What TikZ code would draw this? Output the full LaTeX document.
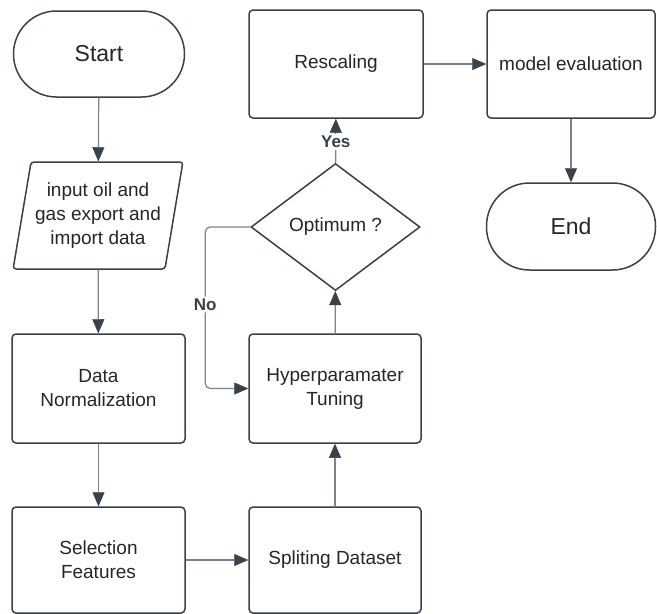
\documentclass[tikz,border=0pt]{standalone}
\usepackage{fontspec}
\setmainfont{Liberation Sans}
\usetikzlibrary{shapes.geometric, arrows.meta}
\definecolor{edgecol}{HTML}{3A4149}
\definecolor{linecol}{HTML}{7D838A}
\tikzset{
  boxbase/.style={draw=edgecol, line width=1.5pt, align=center, font=\fontsize{19}{24}\selectfont, text=black!85, inner sep=2pt},
  procbox/.style={boxbase, rectangle, rounded corners=4pt, minimum width=#1, minimum height=108pt},
  termbox/.style={boxbase, rectangle, rounded corners=43pt, minimum width=171pt, minimum height=86pt, font=\fontsize{23}{28}\selectfont},
  iobox/.style={boxbase, trapezium, trapezium left angle=76, trapezium right angle=104, trapezium stretches=true, minimum width=170pt, minimum height=107pt, rounded corners=3pt},
  decbox/.style={boxbase, diamond, aspect=1.33, inner sep=0pt, minimum width=169pt, minimum height=127pt},
  conn/.style={draw=linecol, line width=1.2pt, -{Triangle[length=14pt,width=12pt,color=edgecol,fill=edgecol,line width=0.5pt]}},
  lbl/.style={font=\bfseries\fontsize{17}{20}\selectfont, text=edgecol, fill=white, inner sep=2pt}
}
\begin{document}
\begin{tikzpicture}[x=1pt,y=-1pt]
\useasboundingbox[fill=white] (0,0) rectangle (657,614);
\node[termbox] (start) at (99,54) {Start};
\node[iobox] (inp) at (98,215.5) {input oil and\\gas export and\\import data};
\node[procbox=173pt, minimum height=109pt] (dn) at (98.5,388.5) {Data\\Normalization};
\node[procbox=173pt, minimum height=106pt] (sf) at (98.5,560) {Selection\\Features};
\node[procbox=172pt, minimum height=106pt] (sd) at (335,560) {Spliting Dataset};
\node[procbox=172pt, minimum height=109pt] (ht) at (335,388.5) {Hyperparamater\\Tuning};
\node[decbox] (dia) at (335.5,227) {Optimum ?};
\node[procbox=174pt] (resc) at (336,64) {Rescaling};
\node[procbox=168pt] (me) at (571,64) {model evaluation};
\node[termbox, minimum width=169pt, minimum height=87pt] (end) at (571,226.5) {End};

\draw[conn] (start) -- (inp);
\draw[conn] (inp) -- (dn);
\draw[conn] (dn) -- (sf);
\draw[conn] (sf) -- (sd);
\draw[conn] (sd) -- (ht);
\draw[conn] (ht) -- (dia);
\draw[conn] (dia) -- node[lbl, pos=0.48] (yes) {Yes} (resc);
\draw[conn] (resc) -- (me);
\draw[conn] (me) -- (end);
\draw[conn, rounded corners=5pt] (dia.west) -- ++(-45,0) coordinate (nobend) |- node[lbl, pos=0.24] (no) {No} (ht.west);
\end{tikzpicture}
\end{document}
